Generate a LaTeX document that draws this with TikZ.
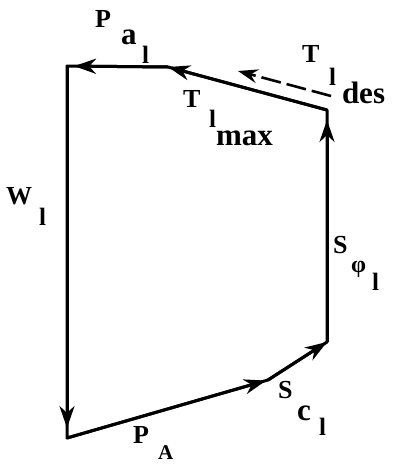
\documentclass[tikz,border=0pt]{standalone}
\usepackage{fontspec}
\setmainfont{Liberation Serif}
\usetikzlibrary{arrows.meta}
\tikzset{
  edge/.style={line width=3pt, line cap=round, line join=round},
  arr/.style={-{Stealth[length=22pt,width=15pt,inset=7pt]}, line width=3pt},
  darr/.style={-{Stealth[length=20pt,width=14pt,inset=7pt]}, line width=2.6pt, dash pattern=on 20pt off 6pt},
  lbl/.style={anchor=base west, inner sep=0pt, outer sep=0pt},
  capl/.style={lbl, font=\fontsize{26}{26}\selectfont\bfseries},
  lowl/.style={lbl, font=\fontsize{31}{31}\selectfont\bfseries},
  idxl/.style={lbl, font=\fontsize{25}{25}\selectfont\bfseries},
}
\begin{document}
\begin{tikzpicture}[x=1pt,y=-1pt]
\useasboundingbox (0,0) rectangle (399,464);
\coordinate (TL) at (67,66);
\coordinate (TM) at (168,67);
\coordinate (TR) at (327,110);
\coordinate (BR) at (327,342);
\coordinate (BM) at (268,380);
\coordinate (BL) at (67,438);
\coordinate (D1) at (331,96);
\coordinate (D2) at (238,71);
% polygon
\draw[edge] (TL) -- (TM) -- (TR) -- (BR) -- (BM) -- (BL) -- cycle;
% arrows
\draw[arr, shorten >=10pt] (TL) -- (BL);
\draw[arr, shorten >=2pt] (BL) -- (BM);
\draw[arr] (BM) -- (BR);
\draw[arr, shorten >=10pt] (BR) -- (TR);
\draw[arr] (TR) -- (TM);
\draw[arr, shorten >=7pt] (TM) -- (TL);
\draw[darr] (D1) -- (D2);
% labels: P_{a_l}
\node[capl] (pa1) at (95,27) {P};
\node[lowl] (pa2) at (121,44) {a};
\node[idxl] (pa3) at (142,63) {l};
% T_{l_max}
\node[capl] (tm1) at (183,107) {T};
\node[idxl] (tm2) at (209,127) {l};
\node[lowl] (tm3) at (216,145) {max};
% T_{l_des}
\node[capl] (td1) at (302,62) {T};
\node[idxl] (td2) at (329,85) {l};
\node[lowl] (td3) at (342,103) {des};
% W_l
\node[capl] (w1) at (6,204) {W};
\node[idxl] (w2) at (39,225) {l};
% S_{phi_l}
\node[capl] (s1) at (333,253) {S};
\node[lbl, font=\fontsize{24}{24}\selectfont\bfseries] (s2) at (351,272) {φ};
\node[idxl] (s3) at (372,290) {l};
% P_A
\node[capl] (p1) at (133,443) {P};
\node[lbl, font=\fontsize{21}{21}\selectfont\bfseries] (p2) at (158,459) {A};
% S_{c_l}
\node[capl] (c1) at (278,398) {S};
\node[lowl] (c2) at (297,420) {c};
\node[idxl] (c3) at (319,435) {l};
\end{tikzpicture}
\end{document}
